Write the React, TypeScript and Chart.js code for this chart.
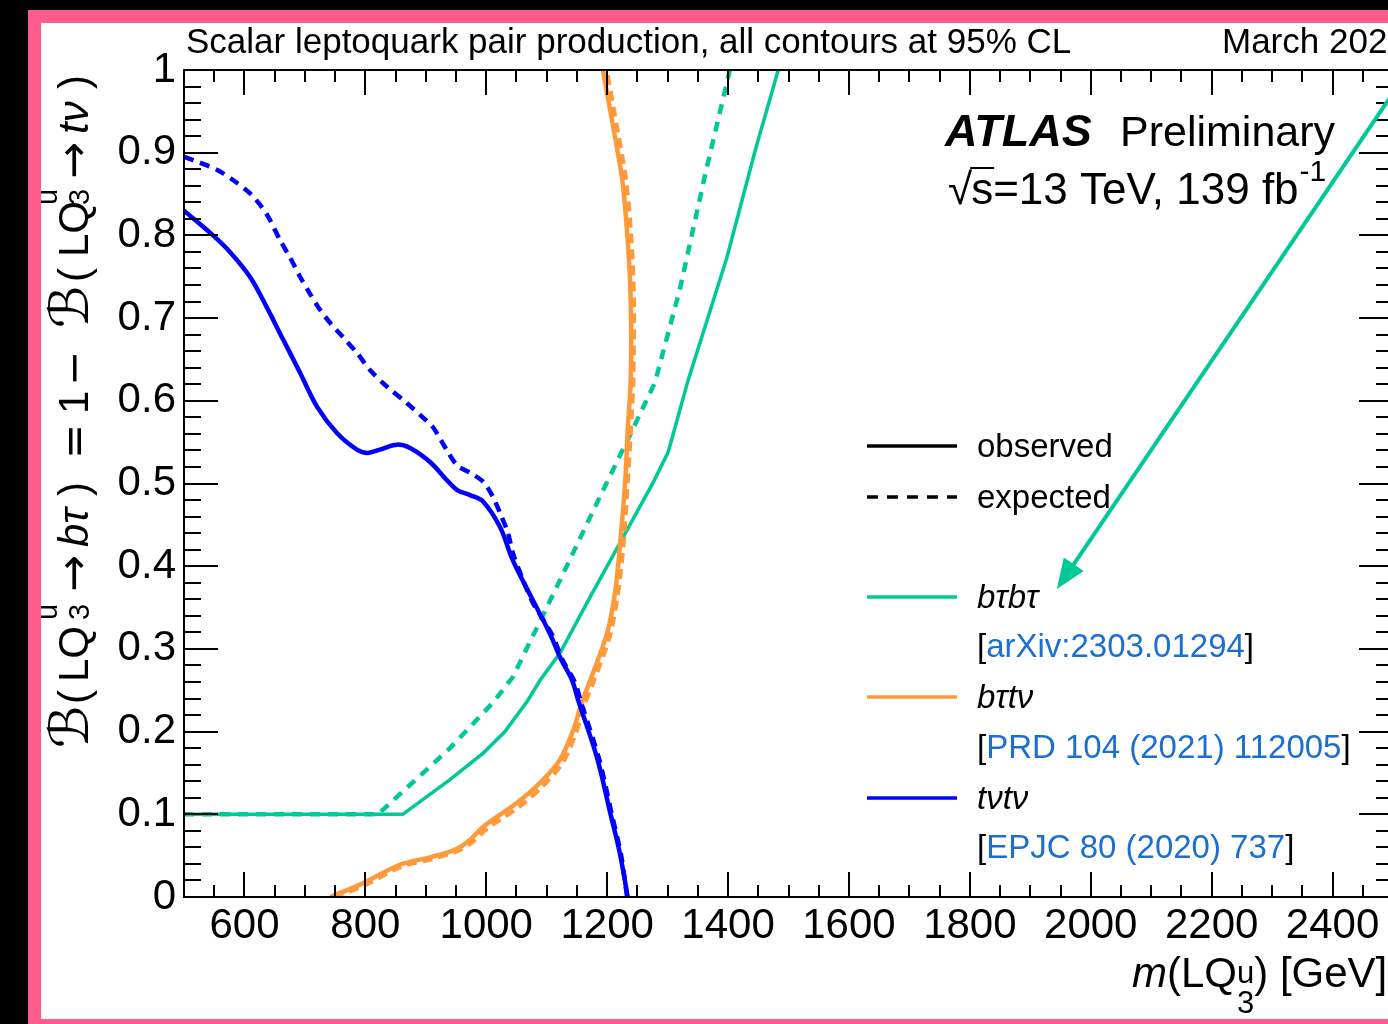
import React, { useEffect, useRef } from "react";
import { Chart, registerables } from "chart.js";

Chart.register(...registerables);

// ---------------- data ----------------
const X_TICKS = [600, 800, 1000, 1200, 1400, 1600, 1800, 2000, 2200, 2400];
const Y_TICKS = [0, 0.1, 0.2, 0.3, 0.4, 0.5, 0.6, 0.7, 0.8, 0.9, 1];
const Y_TICK_LABELS = ["0", "0.1", "0.2", "0.3", "0.4", "0.5", "0.6", "0.7", "0.8", "0.9", "1"];

// b tau b tau (green)
const BTBT_OBS_M = [500, 862, 940, 995, 1031, 1069, 1089, 1122, 1172, 1221, 1276, 1301, 1334, 1398, 1445, 1483];
const BTBT_OBS_B = [0.1, 0.1, 0.142, 0.174, 0.2, 0.238, 0.262, 0.295, 0.363, 0.428, 0.501, 0.538, 0.625, 0.773, 0.903, 1.0];
const BTBT_EXP_M = [500, 821, 940, 1011, 1044, 1122, 1188, 1238, 1279, 1320, 1362, 1403];
const BTBT_EXP_B = [0.1, 0.1, 0.18, 0.235, 0.266, 0.383, 0.484, 0.559, 0.622, 0.734, 0.873, 1.0];

// b tau t nu (orange)
const BTTV_OBS_M = [742, 791, 857, 907, 948, 973, 995, 1051, 1089, 1122, 1144, 1158, 1172, 1200, 1213, 1221, 1230, 1234, 1239, 1239, 1234, 1225, 1211, 1193];
const BTTV_OBS_B = [0, 0.015, 0.039, 0.048, 0.057, 0.069, 0.085, 0.114, 0.138, 0.166, 0.202, 0.235, 0.262, 0.319, 0.368, 0.423, 0.504, 0.565, 0.625, 0.722, 0.794, 0.867, 0.927, 1.0];
const BTTV_EXP_M = [748, 795, 860, 910, 950, 976, 1000, 1056, 1093, 1126, 1148, 1162, 1176, 1204, 1217, 1226, 1234, 1239, 1243, 1244, 1240, 1231, 1217, 1199];
const BTTV_EXP_B = [0, 0.013, 0.037, 0.046, 0.055, 0.066, 0.082, 0.11, 0.134, 0.162, 0.198, 0.232, 0.258, 0.315, 0.364, 0.42, 0.504, 0.565, 0.625, 0.722, 0.794, 0.867, 0.927, 1.0];

// t nu t nu (blue)
const TVTV_OBS_M = [500, 548, 576, 609, 637, 664, 692, 720, 753, 786, 804, 824, 852, 874, 907, 935, 952, 973, 995, 1023, 1044, 1077, 1105, 1122, 1142, 1152, 1183, 1205, 1221, 1234];
const TVTV_OBS_B = [0.83, 0.8, 0.78, 0.75, 0.713, 0.674, 0.634, 0.593, 0.561, 0.541, 0.537, 0.541, 0.547, 0.543, 0.526, 0.504, 0.492, 0.486, 0.478, 0.447, 0.407, 0.359, 0.319, 0.29, 0.262, 0.238, 0.169, 0.102, 0.053, 0.0];
const TVTV_EXP_M = [500, 526, 555, 581, 609, 629, 642, 659, 675, 692, 708, 725, 742, 763, 786, 808, 836, 869, 895, 912, 935, 952, 973, 995, 1011, 1023, 1036, 1044, 1061, 1077, 1109, 1126, 1147, 1157, 1187, 1208, 1223, 1233];
const TVTV_EXP_B = [0.895, 0.888, 0.879, 0.867, 0.851, 0.834, 0.819, 0.794, 0.774, 0.75, 0.73, 0.71, 0.694, 0.677, 0.658, 0.637, 0.617, 0.597, 0.58, 0.568, 0.54, 0.522, 0.513, 0.502, 0.484, 0.464, 0.44, 0.416, 0.383, 0.356, 0.317, 0.287, 0.259, 0.235, 0.166, 0.099, 0.051, 0.0];

// arrow annotation (data coordinates: start, tip)
const ARROW_START = [2500, 0.972];
const ARROW_TIP = [1944, 0.3724];

// ---------------- style ----------------
const FONT = '"Liberation Sans", Arial, Helvetica, sans-serif';
const SCRIPT_FONT = '"DejaVu Serif", "DejaVu Sans", serif';
const SYM_FONT = '"DejaVu Sans", sans-serif';
const GREEN = "#00c896";
const ORANGE = "#ff9a3c";
const BLUE = "#0000ff";
const LINK = "#1c6fd2";
const PINK = "#ff5b8e";

const zip = (m: number[], b: number[]) => m.map((v, i) => ({ x: v, y: b[i] }));

type Piece =
  | { t: string; font: string; color?: string; dy?: number; at?: number }
  | { sup: string; sub: string; font: string; supDy: number; subDy: number; at?: number };

function pieceWidth(ctx: CanvasRenderingContext2D, p: Piece): number {
  ctx.font = p.font;
  if ("t" in p) return ctx.measureText(p.t).width;
  return Math.max(ctx.measureText(p.sup).width, ctx.measureText(p.sub).width);
}

function drawPieces(ctx: CanvasRenderingContext2D, pieces: Piece[], x: number, y: number) {
  let cx = x;
  ctx.textAlign = "left";
  ctx.textBaseline = "alphabetic";
  for (const p of pieces) {
    if (p.at !== undefined) cx = x + p.at;
    ctx.font = p.font;
    if ("t" in p) {
      ctx.fillStyle = p.color || "#000";
      ctx.fillText(p.t, cx, y + (p.dy || 0));
    } else {
      ctx.fillStyle = "#000";
      ctx.fillText(p.sup, cx, y + p.supDy);
      ctx.fillText(p.sub, cx, y + p.subDy);
    }
    cx += pieceWidth(ctx, p);
  }
  return cx - x;
}

const overlayPlugin = {
  id: "overlay",
  afterDraw(chart: any) {
    const ctx: CanvasRenderingContext2D = chart.ctx;
    const { left, right, top, bottom } = chart.chartArea;
    const xs = chart.scales.x;
    const ys = chart.scales.y;
    ctx.save();

    // frame
    ctx.strokeStyle = "#000";
    ctx.lineWidth = 2;
    ctx.strokeRect(left, top, right - left, bottom - top);

    // ticks
    ctx.beginPath();
    for (let v = 500; v <= 2500; v += 50) {
      const px = Math.round(xs.getPixelForValue(v));
      const major = v % 200 === 0;
      const len = major ? 25 : 12;
      ctx.moveTo(px, bottom);
      ctx.lineTo(px, bottom - len);
      ctx.moveTo(px, top);
      ctx.lineTo(px, top + len);
    }
    for (let i = 0; i <= 50; i++) {
      const py = Math.round(ys.getPixelForValue(i * 0.02));
      const major = i % 5 === 0;
      const len = major ? 34 : 17;
      ctx.moveTo(left, py);
      ctx.lineTo(left + len, py);
      ctx.moveTo(right, py);
      ctx.lineTo(right - len, py);
    }
    ctx.stroke();

    // header texts
    ctx.fillStyle = "#000";
    ctx.textBaseline = "alphabetic";
    ctx.textAlign = "left";
    ctx.font = `35px ${FONT}`;
    ctx.fillText("Scalar leptoquark pair production, all contours at 95% CL", 186, 53);
    ctx.fillText("March 2023", 1222, 53);

    ctx.font = `italic bold 45px ${FONT}`;
    ctx.fillText("ATLAS", 945, 146);
    ctx.font = `43px ${FONT}`;
    ctx.fillText("Preliminary", 1120, 146);

    // sqrt(s) line
    ctx.font = `44px ${FONT}`;
    ctx.fillText("\u221A", 948, 204);
    const sqrtW = ctx.measureText("\u221A").width;
    const sx = 948 + sqrtW - 1;
    ctx.fillText("s=13 TeV, 139 fb", sx, 204);
    const sW = ctx.measureText("s").width;
    const restW = ctx.measureText("s=13 TeV, 139 fb").width;
    ctx.beginPath();
    ctx.lineWidth = 2;
    ctx.moveTo(sx - 1, 168);
    ctx.lineTo(sx + sW + 1, 168);
    ctx.stroke();
    ctx.font = `30px ${FONT}`;
    ctx.fillText("-1", sx + restW + 1, 181);

    // legend
    const lx0 = 867, lx1 = 957, tx = 977;
    const legLine = (y: number, color: string, dash: number[]) => {
      ctx.save();
      ctx.strokeStyle = color;
      ctx.lineWidth = 3.5;
      ctx.setLineDash(dash);
      ctx.beginPath();
      ctx.moveTo(lx0, y);
      ctx.lineTo(lx1, y);
      ctx.stroke();
      ctx.restore();
    };
    legLine(446, "#000", []);
    legLine(497, "#000", [11, 9]);
    legLine(597, GREEN, []);
    legLine(697, ORANGE, []);
    legLine(798, BLUE, []);
    ctx.fillStyle = "#000";
    ctx.font = `33px ${FONT}`;
    ctx.fillText("observed", tx, 457);
    ctx.fillText("expected", tx, 508);
    ctx.font = `italic 33px ${FONT}`;
    ctx.fillText("b\u03C4b\u03C4", tx, 608);
    ctx.fillText("b\u03C4t\u03BD", tx, 708);
    ctx.fillText("t\u03BDt\u03BD", tx, 809);
    const link = (s: string, y: number) => {
      drawPieces(ctx, [
        { t: "[", font: `33px ${FONT}` },
        { t: s, font: `33px ${FONT}`, color: LINK },
        { t: "]", font: `33px ${FONT}` },
      ], tx, y);
    };
    link("arXiv:2303.01294", 657);
    link("PRD 104 (2021) 112005", 758);
    link("EPJC 80 (2020) 737", 858);

    // arrow
    const ax0 = xs.getPixelForValue(ARROW_START[0]);
    const ay0 = ys.getPixelForValue(ARROW_START[1]);
    const ax1 = xs.getPixelForValue(ARROW_TIP[0]);
    const ay1 = ys.getPixelForValue(ARROW_TIP[1]);
    const ang = Math.atan2(ay1 - ay0, ax1 - ax0);
    const hl = 30, hw = 12;
    const bx = ax1 - hl * Math.cos(ang), by = ay1 - hl * Math.sin(ang);
    ctx.strokeStyle = GREEN;
    ctx.fillStyle = GREEN;
    ctx.lineWidth = 4;
    ctx.beginPath();
    ctx.moveTo(ax0, ay0);
    ctx.lineTo(bx + 4 * Math.cos(ang), by + 4 * Math.sin(ang));
    ctx.stroke();
    ctx.beginPath();
    ctx.moveTo(ax1, ay1);
    ctx.lineTo(bx + hw * Math.sin(ang), by - hw * Math.cos(ang));
    ctx.lineTo(bx - hw * Math.sin(ang), by + hw * Math.cos(ang));
    ctx.closePath();
    ctx.fill();

    // x-axis title
    ctx.fillStyle = "#000";
    drawPieces(ctx, [
      { t: "m", font: `italic 42px ${FONT}` },
      { t: "(LQ", font: `42px ${FONT}` },
      { sup: "u", sub: "3", font: `31px ${FONT}`, supDy: -4, subDy: 26 },
      { t: ") [GeV]", font: `42px ${FONT}` },
    ], 1132, 987);

    // y-axis title (rotated, positions measured from the bottom end)
    const F = `42px ${FONT}`;
    const S = `29px ${FONT}`;
    const B = `italic 54px ${SCRIPT_FONT}`;
    const A = `44px ${SYM_FONT}`;
    const O = `42px ${SYM_FONT}`;
    const I = `italic 42px ${FONT}`;
    const yPieces: Piece[] = [
      { t: "\u212C", font: B, at: 0 },
      { t: "(", font: F, at: 44 },
      { t: "LQ", font: F, at: 66 },
      { sup: "u", sub: "3", font: S, supDy: -31, subDy: 1, at: 128 },
      { t: "\u2192", font: A, at: 156 },
      { t: "b\u03C4", font: I, at: 201 },
      { t: ")", font: F, at: 252 },
      { t: "=", font: O, at: 289 },
      { t: "1", font: F, at: 334 },
      { t: "\u2212", font: O, at: 362 },
      { t: "\u212C", font: B, at: 420 },
      { t: "(", font: F, at: 466 },
      { t: "LQ", font: F, at: 491 },
      { sup: "u", sub: "3", font: S, supDy: -31, subDy: 1, at: 543 },
      { t: "\u2192", font: A, at: 569 },
      { t: "t\u03BD", font: I, at: 614 },
      { t: ")", font: F, at: 659 },
    ];
    ctx.save();
    ctx.translate(88, 748);
    ctx.rotate(-Math.PI / 2);
    drawPieces(ctx, yPieces, 0, 0);
    ctx.restore();

    ctx.restore();
  },
};

export default function App() {
  const ref = useRef<HTMLCanvasElement>(null);
  useEffect(() => {
    document.body.style.margin = "0";
    const chart = new Chart(ref.current as HTMLCanvasElement, {
      type: "scatter",
      data: {
        datasets: [
          { label: "tvtv obs", data: zip(TVTV_OBS_M, TVTV_OBS_B), borderColor: BLUE, borderWidth: 4.5, tension: 0.35 },
          { label: "tvtv exp", data: zip(TVTV_EXP_M, TVTV_EXP_B), borderColor: BLUE, borderWidth: 4.5, borderDash: [10, 7], tension: 0.3 },
          { label: "btτv obs", data: zip(BTTV_OBS_M, BTTV_OBS_B), borderColor: ORANGE, borderWidth: 4.5, tension: 0.3 },
          { label: "btτv exp", data: zip(BTTV_EXP_M, BTTV_EXP_B), borderColor: ORANGE, borderWidth: 4.5, borderDash: [10, 6], tension: 0.3 },
          { label: "btbt obs", data: zip(BTBT_OBS_M, BTBT_OBS_B), borderColor: GREEN, borderWidth: 3.5, tension: 0 },
          { label: "btbt exp", data: zip(BTBT_EXP_M, BTBT_EXP_B), borderColor: GREEN, borderWidth: 4.5, borderDash: [10, 8], tension: 0 },
        ].map((d) => ({ ...d, showLine: true, pointRadius: 0, pointHoverRadius: 0, fill: false })),
      },
      options: {
        responsive: false,
        maintainAspectRatio: false,
        devicePixelRatio: 1,
        animation: false,
        events: [],
        layout: { padding: { left: 0, top: 70, right: 27, bottom: 0 } },
        plugins: { legend: { display: false }, tooltip: { enabled: false }, title: { display: false } },
        scales: {
          x: {
            type: "linear",
            position: "bottom",
            min: 500,
            max: 2500,
            grid: { display: false, drawTicks: false },
            border: { display: false },
            afterBuildTicks: (s: any) => {
              s.ticks = X_TICKS.map((v) => ({ value: v }));
            },
            afterFit: (s: any) => {
              s.height = 127;
            },
            ticks: {
              autoSkip: false,
              maxRotation: 0,
              padding: 4,
              color: "#000",
              font: { family: FONT, size: 42 },
              callback: (v: any) => String(v),
            },
          },
          y: {
            type: "linear",
            position: "left",
            min: 0,
            max: 1,
            grid: { display: false, drawTicks: false },
            border: { display: false },
            afterBuildTicks: (s: any) => {
              s.ticks = Y_TICKS.map((v) => ({ value: v }));
            },
            afterFit: (s: any) => {
              s.width = 184;
            },
            ticks: {
              autoSkip: false,
              padding: 8,
              color: "#000",
              font: { family: FONT, size: 42 },
              callback: (_v: any, i: number) => Y_TICK_LABELS[i],
            },
          },
        },
      },
      plugins: [overlayPlugin],
    } as any);
    return () => chart.destroy();
  }, []);

  return (
    <div style={{ position: "fixed", left: 0, top: 0, width: 1388, height: 1024, overflow: "hidden", background: "#000" }}>
      <div style={{ position: "absolute", left: 28, top: 10, width: 1400, height: 1014, background: PINK }} />
      <div style={{ position: "absolute", left: 41, top: 23, width: 1400, height: 996, background: "#fff" }} />
      <canvas ref={ref} width={1420} height={1024} style={{ position: "absolute", left: 0, top: 0 }} />
    </div>
  );
}
